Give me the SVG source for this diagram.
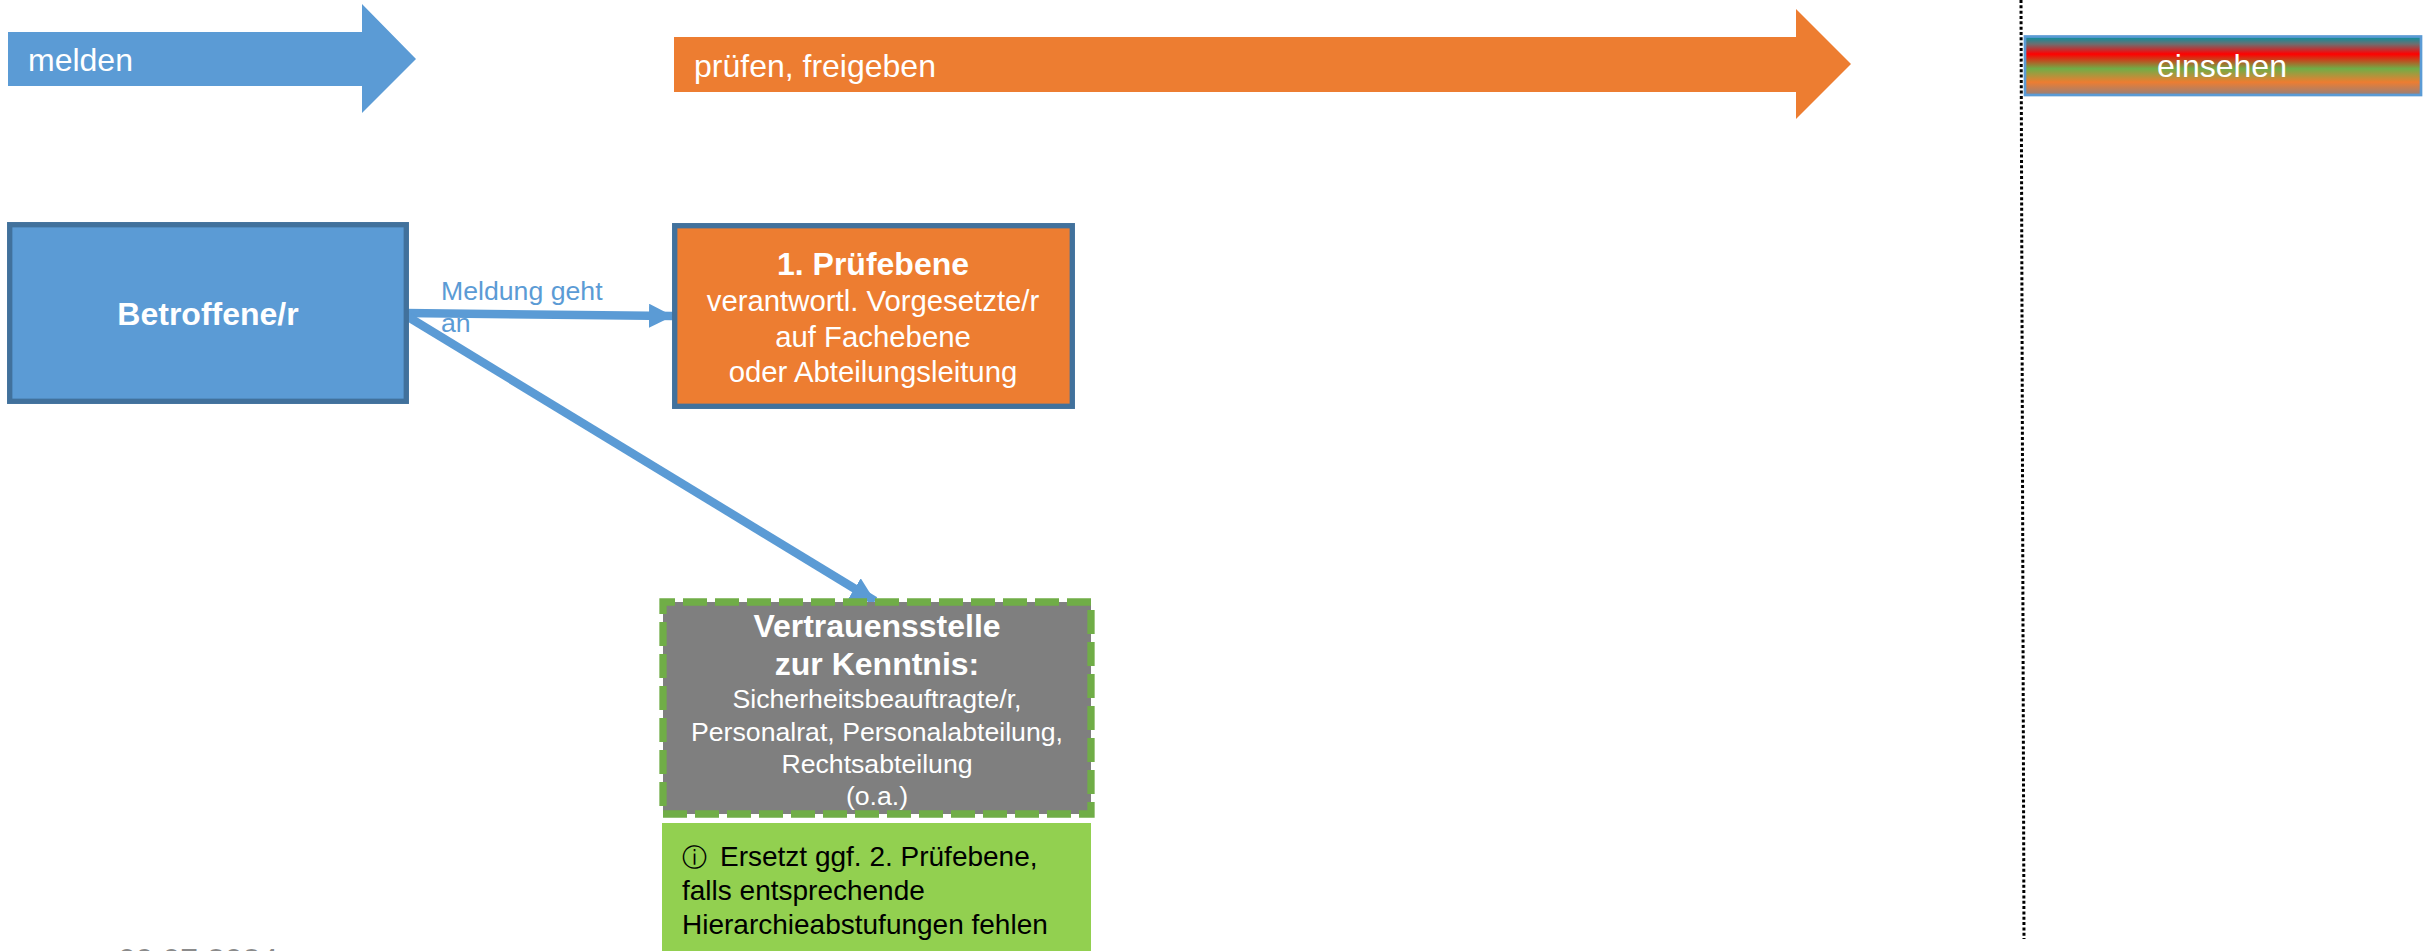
<svg xmlns="http://www.w3.org/2000/svg" width="2425" height="951" viewBox="0 0 2425 951">
<style>
text{font-family:"Liberation Sans",Arial,sans-serif;fill:#fff;font-size:32px}
.m{text-anchor:middle}
.b{font-weight:bold}
.s{font-size:29.33px}
.t{font-size:26.67px}
.k{font-size:28px;fill:#000}
.c{fill:none;stroke:#5b9bd5;stroke-width:8.5}
</style>
<defs>
<linearGradient id="g" x1="0" y1="0" x2="0" y2="1">
<stop offset=".02" stop-color="#128e9c"/>
<stop offset=".13" stop-color="#6e6e70"/>
<stop offset=".3" stop-color="#ff0000"/>
<stop offset=".55" stop-color="#70ad47"/>
<stop offset=".78" stop-color="#ed7d31"/>
<stop offset="1" stop-color="#97807a"/>
</linearGradient>
<marker id="a" markerUnits="userSpaceOnUse" markerWidth="26" markerHeight="26" refX="24" refY="12" orient="auto"><path d="M0 0L24 12L0 24Z" fill="#5b9bd5"/></marker>
</defs>
<g id="connectors">
<path class="c" d="M405 313L673 316" marker-end="url(#a)"/>
<path class="c" d="M405 315L875 601" marker-end="url(#a)"/>
<path d="M2021 0L2024 939" fill="none" stroke="#000" stroke-width="3" stroke-dasharray="3 2.33"/>
</g>
<g id="arrow-melden">
<path d="M8 32H362V4L416 59L362 113V86H8Z" fill="#5b9bd5"/>
<text x="28" y="71">melden</text>
</g>
<g id="arrow-pruefen">
<path d="M674 37H1796V9L1851 64L1796 119V92H674Z" fill="#ed7d31"/>
<text x="694" y="77">prüfen, freigeben</text>
</g>
<g id="einsehen">
<rect x="2025" y="36.5" width="396" height="58.5" fill="url(#g)" stroke="#5b9bd5" stroke-width="2.7"/>
<text class="m" x="2222" y="77">einsehen</text>
</g>
<g id="betroffene">
<rect x="9.7" y="224.7" width="396.6" height="176.6" fill="#5b9bd5" stroke="#41719c" stroke-width="5.33"/>
<text class="m b" x="208" y="325">Betroffene/r</text>
</g>
<g id="label">
<text class="t" x="441" y="300" style="fill:#5b9bd5">Meldung geht</text>
<text class="t" x="441" y="332" style="fill:#5b9bd5">an</text>
</g>
<g id="pruefebene">
<rect x="674.7" y="225.7" width="397.6" height="180.6" fill="#ed7d31" stroke="#41719c" stroke-width="5.33"/>
<text class="m b" x="873" y="275">1. Prüfebene</text>
<text class="m s" x="873" y="311">verantwortl. Vorgesetzte/r</text>
<text class="m s" x="873" y="347">auf Fachebene</text>
<text class="m s" x="873" y="382">oder Abteilungsleitung</text>
</g>
<g id="vertrauensstelle">
<rect x="663" y="602" width="428" height="212" fill="#7f7f7f" stroke="#70ad47" stroke-width="7.3" stroke-dasharray="24 8" stroke-dashoffset="12"/>
<text class="m b" x="877" y="637">Vertrauensstelle</text>
<text class="m b" x="877" y="675">zur Kenntnis:</text>
<text class="m t" x="877" y="708">Sicherheitsbeauftragte/r,</text>
<text class="m t" x="877" y="741">Personalrat, Personalabteilung,</text>
<text class="m t" x="877" y="773">Rechtsabteilung</text>
<text class="m t" x="877" y="805">(o.a.)</text>
</g>
<g id="hinweis">
<rect x="662" y="823" width="429" height="128" fill="#92d050"/>
<text class="k" x="682" y="866" style="font-family:'Liberation Sans','DejaVu Sans',sans-serif"><tspan style="font-size:25px">ⓘ</tspan> <tspan x="720">Ersetzt ggf. 2. Prüfebene,</tspan></text>
<text class="k" x="682" y="900">falls entsprechende</text>
<text class="k" x="682" y="934">Hierarchieabstufungen fehlen</text>
</g>
<g id="datum">
<text x="118" y="971" style="fill:#8b8b8b">09.07.2024</text>
</g>
</svg>
